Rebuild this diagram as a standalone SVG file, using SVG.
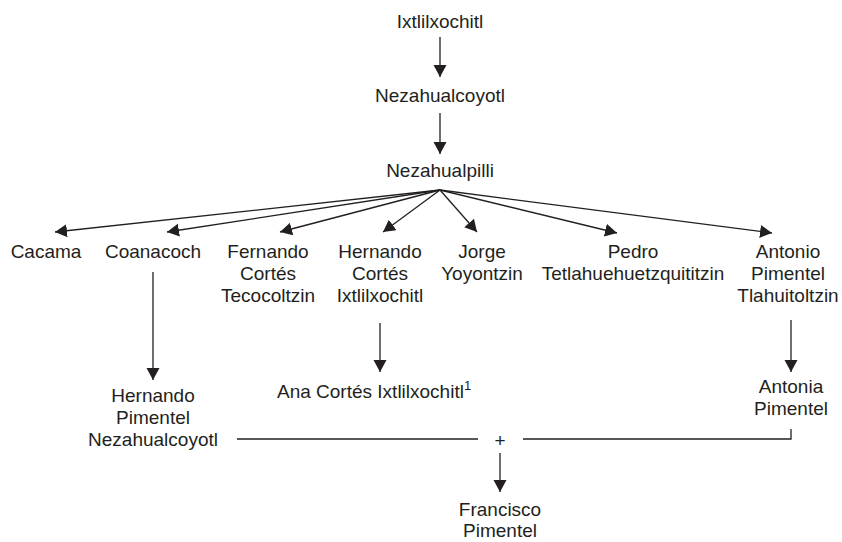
<svg xmlns="http://www.w3.org/2000/svg" width="842" height="542" viewBox="0 0 842 542">
<defs>
<marker id="ah" markerUnits="userSpaceOnUse" markerWidth="13" markerHeight="14" refX="12" refY="6.5" orient="auto">
<path d="M0,0 L12,6.5 L0,13 z" fill="#231f20"/>
</marker>
<style>
text{font-family:"Liberation Sans",Arial,Helvetica,sans-serif;font-size:19px;fill:#231f20;text-anchor:middle}
.c line,.c path{stroke:#231f20;stroke-width:1.3;fill:none}
.a{marker-end:url(#ah)}
</style>
</defs>
<rect width="842" height="542" fill="#fff"/>
<g class="c" id="connectors">
<line class="a" x1="440" y1="37" x2="440" y2="77"/>
<line class="a" x1="440" y1="113" x2="440" y2="154"/>
<line class="a" x1="440" y1="190" x2="55" y2="232"/>
<line class="a" x1="440" y1="190" x2="167" y2="232"/>
<line class="a" x1="440" y1="190" x2="280" y2="232"/>
<line class="a" x1="440" y1="190" x2="383" y2="232"/>
<line class="a" x1="440" y1="190" x2="477" y2="232"/>
<line class="a" x1="440" y1="190" x2="617" y2="233"/>
<line class="a" x1="440" y1="190" x2="772" y2="233"/>
<line class="a" x1="153" y1="272" x2="153" y2="380"/>
<line class="a" x1="380" y1="323" x2="380" y2="372"/>
<line class="a" x1="791" y1="320" x2="791" y2="372"/>
<path d="M791,429 V439 H523"/>
<line x1="237" y1="439" x2="478" y2="439"/>
<line class="a" x1="500" y1="453" x2="500" y2="492"/>
</g>
<g id="ixtlilxochitl"><text x="440" y="28">Ixtlilxochitl</text></g>
<g id="nezahualcoyotl"><text x="440" y="102">Nezahualcoyotl</text></g>
<g id="nezahualpilli"><text x="440" y="177">Nezahualpilli</text></g>
<g id="cacama"><text x="46" y="258">Cacama</text></g>
<g id="coanacoch"><text x="153" y="258">Coanacoch</text></g>
<g id="fernando"><text x="268" y="258">Fernando</text><text x="268" y="280">Cortés</text><text x="268" y="302">Tecocoltzin</text></g>
<g id="hernando-cortes"><text x="380" y="258">Hernando</text><text x="380" y="280">Cortés</text><text x="380" y="302">Ixtlilxochitl</text></g>
<g id="jorge"><text x="482" y="258">Jorge</text><text x="482" y="280">Yoyontzin</text></g>
<g id="pedro"><text x="633" y="258">Pedro</text><text x="633" y="280">Tetlahuehuetzquititzin</text></g>
<g id="antonio"><text x="788" y="258">Antonio</text><text x="788" y="280">Pimentel</text><text x="788" y="302">Tlahuitoltzin</text></g>
<g id="hernando-pimentel"><text x="153" y="402">Hernando</text><text x="153" y="424">Pimentel</text><text x="153" y="446">Nezahualcoyotl</text></g>
<g id="ana"><text x="277" y="398" style="text-anchor:start">Ana Cortés Ixtlilxochitl<tspan font-size="13" dy="-8">1</tspan></text></g>
<g id="antonia"><text x="791" y="393">Antonia</text><text x="791" y="415">Pimentel</text></g>
<g id="plus"><text x="500" y="447">+</text></g>
<g id="francisco"><text x="500" y="516">Francisco</text><text x="500" y="537">Pimentel</text></g>
</svg>
